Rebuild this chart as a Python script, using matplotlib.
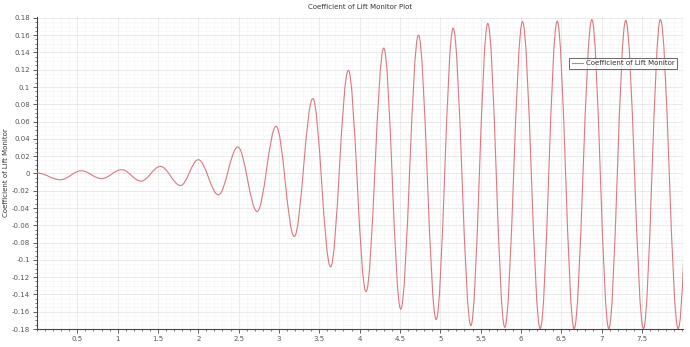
import numpy as np
import matplotlib
matplotlib.use('Agg')
import matplotlib.pyplot as plt
from matplotlib.path import Path
from matplotlib.patches import PathPatch
from matplotlib.lines import Line2D
from matplotlib.ticker import MultipleLocator, FuncFormatter

# turning points of the lift coefficient (time s, Cl)
peak_time = [0.0, 0.29, 0.55, 0.80, 1.05, 1.29, 1.53, 1.78, 2.00, 2.25,
             2.49, 2.73, 2.965, 3.19, 3.42, 3.64, 3.86, 4.08, 4.30, 4.51,
             4.73, 4.95, 5.16, 5.38, 5.59, 5.80, 6.02, 6.24, 6.45, 6.66,
             6.88, 7.09, 7.30, 7.52, 7.73, 7.95]
peak_cl = [0.0005, -0.0073, 0.0031, -0.0060, 0.0043, -0.0089, 0.0081, -0.0139,
           0.0159, -0.0247, 0.0305, -0.0440, 0.0545, -0.0730, 0.0866, -0.1080,
           0.1194, -0.1368, 0.1450, -0.1570, 0.1600, -0.1690, 0.1680, -0.1760,
           0.1736, -0.1780, 0.1756, -0.1795, 0.1760, -0.1795, 0.1780, -0.1795,
           0.1770, -0.1795, 0.1780, -0.1795]
end_time = 8.02
end_cl = -0.095

LINE = '#db7880'
GREY = '#555555'
FS = 5

plt.rcParams['font.family'] = 'DejaVu Sans'
plt.rcParams['axes.unicode_minus'] = False

fig = plt.figure(figsize=(6.9, 3.47), dpi=100)
ax = fig.add_axes([37 / 690, 1 - 329 / 347, 646 / 690, 312 / 347])

# smooth curve: cubic segments with flat tangents at each turning point
k = 0.3634
verts = [(peak_time[0], peak_cl[0])]
codes = [Path.MOVETO]
for i in range(len(peak_time) - 1):
    t0, v0 = peak_time[i], peak_cl[i]
    t1, v1 = peak_time[i + 1], peak_cl[i + 1]
    dt = t1 - t0
    verts += [(t0 + k * dt, v0), (t1 - k * dt, v1), (t1, v1)]
    codes += [Path.CURVE4] * 3
t0, v0 = peak_time[-1], peak_cl[-1]
verts += [(t0 + 0.5 * (end_time - t0), v0), (end_time, end_cl)]
codes += [Path.CURVE3] * 2
ax.add_patch(PathPatch(Path(verts, codes), facecolor='none', edgecolor=LINE,
                       lw=0.8, zorder=3))

ax.set_xlim(0, 8.01)
ax.set_ylim(-0.18, 0.181)


def short(v, pos):
    return '%g' % (round(v, 4) + 0.0)


ax.set_xticks(np.arange(0.5, 7.6, 0.5))
ax.xaxis.set_major_formatter(FuncFormatter(short))
ax.xaxis.set_minor_locator(MultipleLocator(0.1))
ax.yaxis.set_major_locator(MultipleLocator(0.02))
ax.yaxis.set_major_formatter(FuncFormatter(short))
ax.yaxis.set_minor_locator(MultipleLocator(0.005))

ax.grid(True, which='major', color='#e6e6e6', lw=0.6)
ax.grid(True, which='minor', color='#f5f5f5', lw=0.5)
ax.set_axisbelow(True)

for s in ['top', 'right']:
    ax.spines[s].set_visible(False)
for s in ['left', 'bottom']:
    ax.spines[s].set_color('#444444')
    ax.spines[s].set_linewidth(0.8)

ax.tick_params(which='major', length=3, width=0.6, color='#444444',
               labelsize=FS, labelcolor=GREY, pad=2)
ax.tick_params(which='minor', length=1.5, width=0.5, color='#444444')

ax.set_title('Coefficient of Lift Monitor Plot', fontsize=FS, color='#333333', pad=6)
ax.set_ylabel('Coefficient of Lift Monitor', fontsize=FS, color='#333333')
ax.yaxis.set_label_coords(-0.044, 0.5)

handle = Line2D([], [], color=LINE, lw=0.8)
leg = ax.legend([handle], ['Coefficient of Lift Monitor'], loc='upper right',
                bbox_to_anchor=(0.991, 0.87), fontsize=FS, frameon=True,
                fancybox=False, handlelength=1.6, handletextpad=0.4,
                borderpad=0.4, borderaxespad=0)
leg.get_frame().set_edgecolor('#444444')
leg.get_frame().set_linewidth(0.7)
for txt in leg.get_texts():
    txt.set_color('#333333')

fig.savefig('out.png', dpi=100)
